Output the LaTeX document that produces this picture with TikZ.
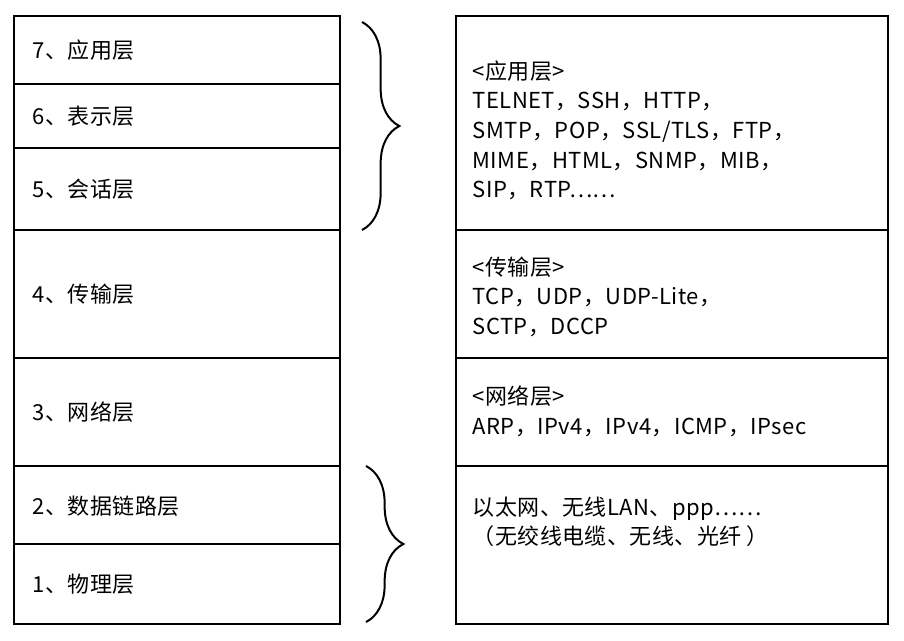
\documentclass[tikz,border=0pt]{standalone}
\usepackage{fontspec}
\setmainfont{Noto Sans CJK SC}[LetterSpace=2]
\newfontfamily\lat{Noto Sans}
\usetikzlibrary{decorations.pathreplacing}
\begin{document}
\begin{tikzpicture}[x=0.75pt,y=-0.75pt,
 box/.style={draw,line width=1.5pt},
 lt/.style={anchor=west,font=\fontsize{16.5}{22.5}\selectfont},
 rt/.style={anchor=north west,align=left,font=\fontsize{16.5}{22.2}\selectfont},
 br/.style={decorate,decoration={brace,amplitude=28pt},line width=1.5pt}]
\useasboundingbox (0,0) rectangle (904,640);
\foreach \a/\b [count=\i] in {16/84,84/148,148/230,230/358,358/466,466/544,544/624}
  \draw[box] (14,\a) rectangle (340,\b);
\foreach \a/\b in {16/230,230/358,358/466,466/624}
  \draw[box] (456,\a) rectangle (888,\b);
\node[lt] (l7) at (28,50) {7、应用层};
\node[lt] (l6) at (28,116) {6、表示层};
\node[lt] (l5) at (28,189) {5、会话层};
\node[lt] (l4) at (28,294) {4、传输层};
\node[lt] (l3) at (28,412) {3、网络层};
\node[lt] (l2) at (28,506) {2、数据链路层};
\node[lt] (l1) at (28,584) {1、物理层};
\node[rt] (r1) at (468,56) {<应用层>\\TELNET，SSH，HTTP，\\SMTP，POP，SSL/TLS，FTP，\\MIME，HTML，SNMP，MIB，\\SIP，RTP……};
\node[rt] (r2) at (468,252) {<传输层>\\TCP，UDP，UDP-Lite，\\SCTP，DCCP};
\node[rt] (r3) at (468,381) {<网络层>\\ARP，IPv4，IPv4，ICMP，IPsec};
\node[rt] (r4) at (468,492) {以太网、无线LAN、ppp……\\（无绞线电缆、无线、光纤 ）};
\coordinate (b1) at (362,22); \coordinate (b2) at (362,230);
\coordinate (b3) at (366,466); \coordinate (b4) at (366,622);
\draw[br] (b1) -- (b2);
\draw[br] (b3) -- (b4);
\end{tikzpicture}
\end{document}
